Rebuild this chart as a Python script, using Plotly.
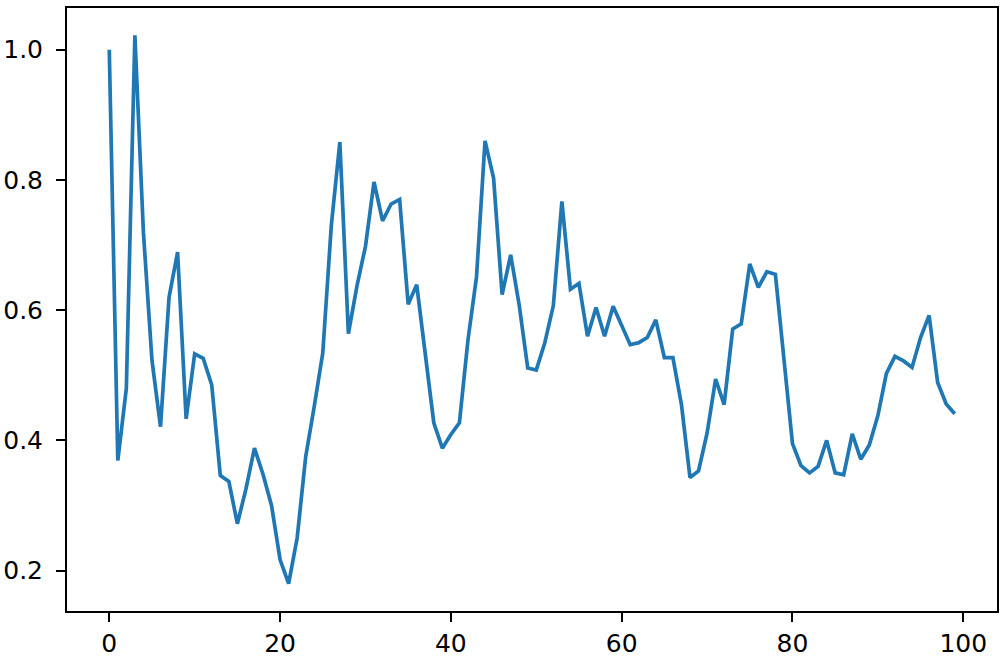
import plotly.graph_objects as go

# values, one per step 0..99
steps = list(range(100))
values = [
    1.000, 0.369, 0.480, 1.022, 0.719, 0.523, 0.421, 0.620, 0.689, 0.433,
    0.533, 0.526, 0.485, 0.346, 0.337, 0.272, 0.325, 0.388, 0.348, 0.300,
    0.217, 0.180, 0.250, 0.375, 0.452, 0.534, 0.730, 0.858, 0.564, 0.637,
    0.698, 0.797, 0.737, 0.763, 0.770, 0.609, 0.639, 0.534, 0.427, 0.388,
    0.409, 0.427, 0.554, 0.651, 0.860, 0.803, 0.624, 0.685, 0.608, 0.511,
    0.508, 0.550, 0.607, 0.767, 0.632, 0.641, 0.560, 0.604, 0.560, 0.606,
    0.577, 0.547, 0.550, 0.558, 0.585, 0.527, 0.527, 0.455, 0.343, 0.353,
    0.411, 0.494, 0.455, 0.571, 0.579, 0.671, 0.635, 0.659, 0.655, 0.526,
    0.395, 0.361, 0.350, 0.360, 0.400, 0.350, 0.347, 0.410, 0.371, 0.393,
    0.438, 0.503, 0.529, 0.522, 0.512, 0.558, 0.592, 0.489, 0.456, 0.441,
]
x_ticks = [0, 20, 40, 60, 80, 100]
y_ticks = [0.2, 0.4, 0.6, 0.8, 1.0]

fig = go.Figure()
fig.add_trace(go.Scatter(x=steps, y=values, mode="lines",
                         line=dict(color="#1f77b4", width=3.7)))

# matplotlib-style 5% padding around the data
xpad = (max(steps) - min(steps)) * 0.05
ypad = (max(values) - min(values)) * 0.05

axis_style = dict(showline=True, linecolor="black", linewidth=2, mirror=True,
                  ticks="outside", ticklen=9, tickwidth=2, tickcolor="black",
                  showgrid=False, zeroline=False, automargin=False)

fig.update_xaxes(range=[min(steps) - xpad, max(steps) + xpad],
                 tickvals=x_ticks, ticklabelstandoff=0, **axis_style)
fig.update_yaxes(range=[min(values) - ypad, max(values) + ypad],
                 tickvals=y_ticks, tickformat=".1f", ticklabelstandoff=8,
                 **axis_style)

fig.update_layout(width=1003, height=661, showlegend=False,
                  plot_bgcolor="white", paper_bgcolor="white",
                  margin=dict(l=67, r=6, t=8, b=50),
                  font=dict(family="DejaVu Sans", size=25, color="black"))

# drop the browser's default body margin so the figure fills the window
fig.write_html("out.html", config={"displayModeBar": False},
               post_script="document.body.style.margin='0';")
